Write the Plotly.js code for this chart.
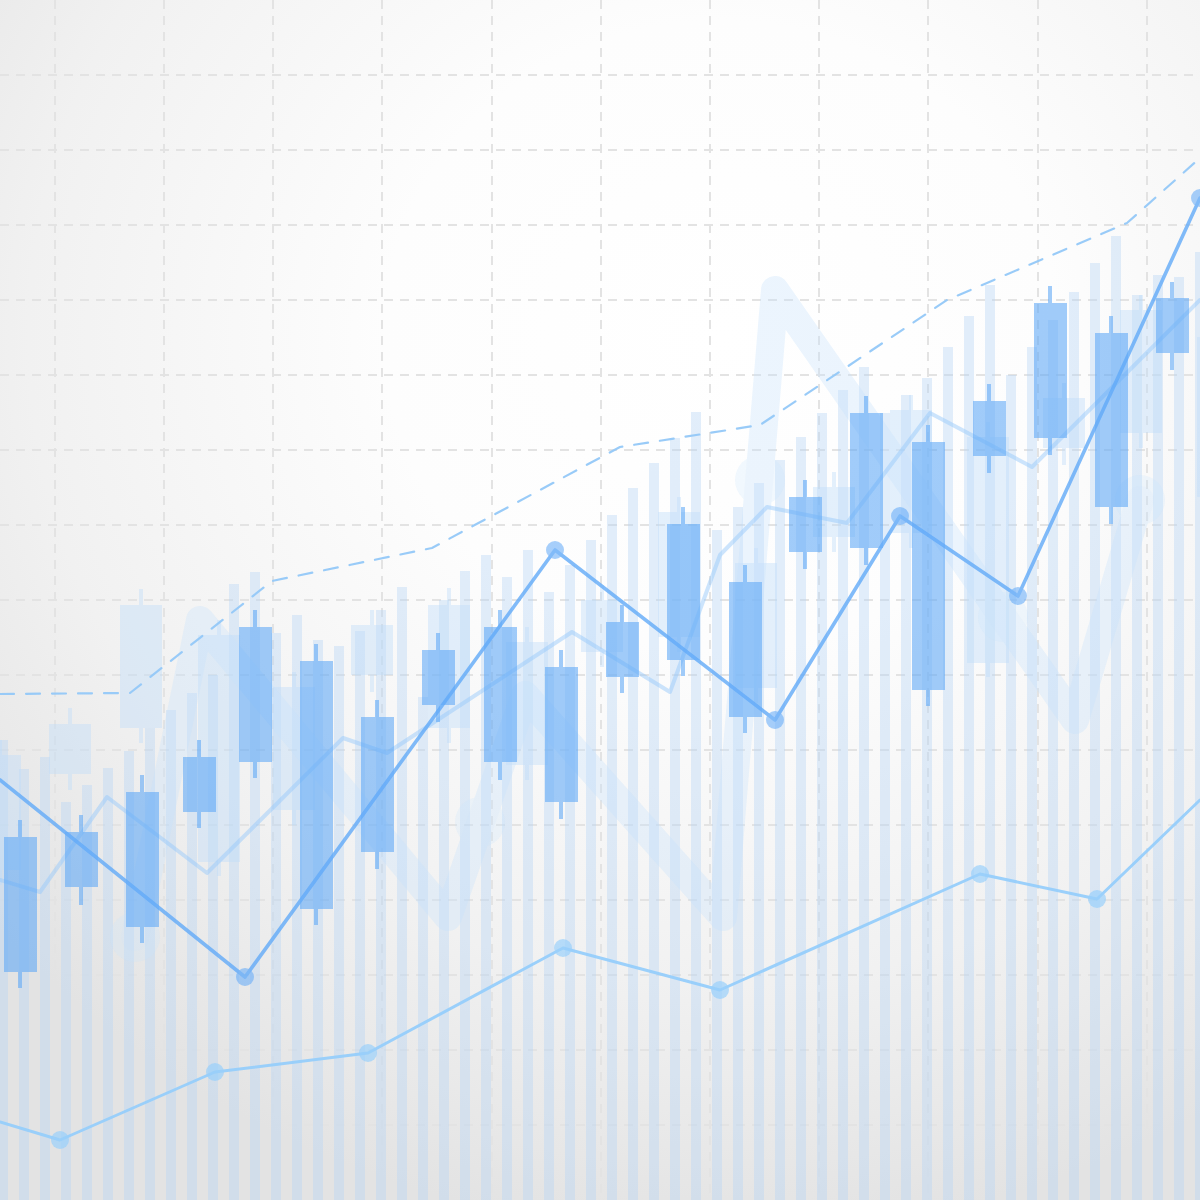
<!DOCTYPE html>
<html>
<head>
<meta charset="utf-8">
<script src="https://cdn.plot.ly/plotly-3.0.1.min.js"></script>
<style>
  html, body { margin: 0; padding: 0; }
  body {
    width: 1200px; height: 1200px; overflow: hidden;
    background: radial-gradient(ellipse 80% 75% at 60% 28%, #ffffff 0%, #fdfdfd 35%, #f1f1f1 72%, #e3e3e3 100%);
  }
  #chart { width: 1200px; height: 1200px; }
  .js-line { stroke-linejoin: round; stroke-linecap: round; }
</style>
</head>
<body>
<div id="chart"></div>
<script>
// ---------- data ----------
// volume-style background bars
const volumeX = [3,24,45,66,87,108,129,150,171,192,213,234,255,276,297,318,339,360,381,402,423,444,465,486,507,528,549,570,591,612,633,654,675,696,717,738,759,780,801,822,843,864,885,906,927,948,969,990,1011,1032,1053,1074,1095,1116,1137,1158,1179,1200];
const volumeY = [460,431,443,398,415,432,449,472,490,507,525,616,628,567,585,560,554,569,590,613,503,600,629,645,623,650,608,635,660,685,712,737,762,788,670,693,717,740,763,787,810,833,787,805,822,853,884,915,825,853,880,908,937,964,905,925,923,948];

// faded background candles
const paleX     = [0,70,141,219,294,372,449,527,602,679,756,834,911,988,1064,1141,1218];
const paleOpen  = [330,426,472,338,390,525,472,435,548,563,512,663,667,537,752,767,703];
const paleClose = [445,476,595,565,513,575,595,558,600,688,637,713,790,763,802,890,863];
const paleHigh  = [460,492,611,580,528,590,612,573,615,703,652,728,805,778,817,905,878];
const paleLow   = [315,410,457,324,375,508,457,420,533,548,497,648,652,523,735,752,688];

// foreground candles
const candleX     = [20,81,142,199,255,316,377,438,500,561,622,683,745,805,866,928,989,1050,1111,1172];
const candleOpen  = [228,313,273,388,438,291,348,495,438,398,523,540,483,648,652,510,744,762,693,847];
const candleClose = [363,368,408,443,573,539,483,550,573,533,578,676,618,703,787,758,799,897,867,902];
const candleHigh  = [380,385,425,460,590,556,500,567,590,550,595,693,635,720,804,775,816,914,884,918];
const candleLow   = [212,295,257,372,422,275,331,478,420,381,507,524,467,631,635,494,727,745,676,830];

// wide faded trend path (with faded circles on some points)
const glowX = [135,200,448,480,525,723,760,775,1003,1075,1140];
const glowY = [263,580,283,378,505,283,720,910,583,480,700];
const glowDot = [1,0,0,1,0,0,1,0,1,0,1];

// light middle line
const midX = [0,40,107,207,343,387,572,670,720,767,847,930,1032,1200];
const midY = [320,308,403,327,462,447,568,508,645,693,677,787,733,900];

// dashed upper line
const dashX = [0,130,272,432,620,760,947,1127,1200];
const dashY = [506,507,619,652,753,775,900,977,1042];

// main line with dots
const mainX = [0,245,555,775,900,1018,1200];
const mainY = [420,223,650,480,684,604,1002];
const mainDot = [0,1,1,1,1,1,1];

// lower line with dots
const lowX = [0,60,215,368,563,720,980,1097,1200];
const lowY = [78,60,128,147,252,210,326,301,400];
const lowDot = [0,1,1,1,1,1,1,1,0];

// grid positions
const gridX = [55,164,273,382,492,601,710,819,928,1038,1147];
const gridY = [0,75,150,225,300,375,450,525,600,675,750,825,900,975,1050,1125,1200];

// ---------- build candle geometry as bar pieces ----------
function candleBars(xs, o, c, h, l, bodyW, wickW) {
  const x = [], base = [], len = [], w = [];
  for (let i = 0; i < xs.length; i++) {
    const lo = Math.min(o[i], c[i]), hi = Math.max(o[i], c[i]);
    x.push(xs[i]); base.push(l[i]); len.push(h[i] - l[i]); w.push(wickW);
    x.push(xs[i]); base.push(lo); len.push(hi - lo); w.push(bodyW);
  }
  return {x, base, len, w};
}
const pale = candleBars(paleX, paleOpen, paleClose, paleHigh, paleLow, 42, 4.5);
const fg = candleBars(candleX, candleOpen, candleClose, candleHigh, candleLow, 33, 4.5);

const traces = [
  { type: 'bar', x: volumeX, y: volumeY, base: 0, width: 9.5,
    marker: { color: 'rgb(184,214,246)', line: { width: 0 } },
    opacity: 0.4, hoverinfo: 'skip', xaxis: 'x', yaxis: 'y' },
  { type: 'bar', x: pale.x, y: pale.len, base: pale.base, width: pale.w,
    marker: { color: 'rgb(192,221,250)', line: { width: 0 } },
    opacity: 0.42, hoverinfo: 'skip', xaxis: 'x', yaxis: 'y' },
  { type: 'scatter', mode: 'lines+markers', x: glowX, y: glowY,
    line: { color: 'rgb(198,226,252)', width: 28 },
    marker: { color: 'rgb(198,226,252)', size: glowDot.map(d => d ? 50 : 0), line: { width: 0 } },
    opacity: 0.34, hoverinfo: 'skip', xaxis: 'x', yaxis: 'y' },
  { type: 'scatter', mode: 'lines', x: midX, y: midY,
    line: { color: 'rgb(150,200,250)', width: 4 },
    opacity: 0.48, hoverinfo: 'skip', xaxis: 'x', yaxis: 'y' },
  { type: 'scatter', mode: 'lines', x: dashX, y: dashY,
    line: { color: 'rgb(148,200,248)', width: 2.2, dash: '14px,12px' },
    opacity: 0.95, hoverinfo: 'skip', xaxis: 'x', yaxis: 'y' },
  { type: 'bar', x: fg.x, y: fg.len, base: fg.base, width: fg.w,
    marker: { color: 'rgb(94,168,246)', line: { width: 0 } },
    opacity: 0.58, hoverinfo: 'skip', xaxis: 'x2', yaxis: 'y2' },
  { type: 'scatter', mode: 'lines+markers', x: mainX, y: mainY,
    line: { color: 'rgb(98,170,248)', width: 3.6 },
    marker: { color: 'rgb(98,170,248)', size: mainDot.map(d => d ? 18 : 0), line: { width: 0 } },
    opacity: 0.8, hoverinfo: 'skip', xaxis: 'x2', yaxis: 'y2' },
  { type: 'scatter', mode: 'lines+markers', x: lowX, y: lowY,
    line: { color: 'rgb(150,206,251)', width: 3 },
    marker: { color: 'rgb(150,206,251)', size: lowDot.map(d => d ? 18 : 0), line: { width: 0 } },
    opacity: 0.95, hoverinfo: 'skip', xaxis: 'x2', yaxis: 'y2' }
];

const gridStyle = { gridcolor: '#e3e3e3', gridwidth: 1.3, griddash: '9px,7px' };
const layout = {
  width: 1200, height: 1200,
  margin: { l: 0, r: 0, t: 0, b: 0, pad: 0 },
  paper_bgcolor: 'rgba(0,0,0,0)', plot_bgcolor: 'rgba(0,0,0,0)',
  showlegend: false, barmode: 'overlay', bargap: 0,
  xaxis: Object.assign({ range: [0, 1200], tickmode: 'array', tickvals: gridX,
    showticklabels: false, ticks: '', zeroline: false, showline: false, fixedrange: true }, gridStyle),
  yaxis: Object.assign({ range: [0, 1200], tickmode: 'array', tickvals: gridY,
    showticklabels: false, ticks: '', zeroline: false, showline: false, fixedrange: true }, gridStyle),
  xaxis2: { range: [0, 1200], overlaying: 'x', visible: false, showgrid: false, zeroline: false, fixedrange: true },
  yaxis2: { range: [0, 1200], overlaying: 'y', visible: false, showgrid: false, zeroline: false, fixedrange: true }
};

Plotly.newPlot('chart', traces, layout, { displayModeBar: false, staticPlot: true });
</script>
</body>
</html>
